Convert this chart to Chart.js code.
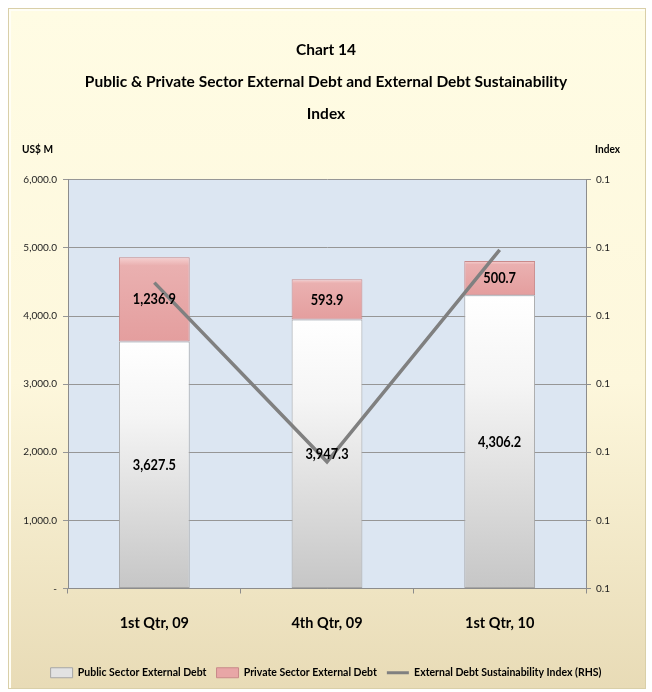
<!DOCTYPE html>
<html>
<head>
<meta charset="utf-8">
<script src="https://cdn.jsdelivr.net/npm/chart.js@4.4.1/dist/chart.umd.min.js"></script>
<style>
  html, body { margin: 0; padding: 0; background: #ffffff; }
  #wrap { position: relative; width: 652px; height: 692px; }
  #frame {
    position: absolute; left: 8px; top: 8px; width: 636px; height: 679px;
    border: 1px solid #d9cfa8; box-shadow: inset 2px 2px 0 #fffef5;
    background: linear-gradient(to bottom, #fffce4 0%, #fdf7dc 55%, #e8dbb6 100%);
  }
  canvas { position: absolute; left: 0; top: 0; }
</style>
</head>
<body>
<div id="wrap">
  <div id="frame"></div>
  <canvas id="c" width="652" height="692"></canvas>
</div>
<script>
// Quarters on the category axis
const categories = ['1st Qtr, 09', '4th Qtr, 09', '1st Qtr, 10'];
// External debt, US$ millions
const publicDebt = [3627.5, 3947.3, 4306.2];
const privateDebt = [1236.9, 593.9, 500.7];
// External Debt Sustainability Index (right-hand scale)
const sustainabilityIndex = [0.1249, 0.0986, 0.1297];
// Tick settings for the two value axes
const leftTicks = { min: 0, max: 6000, step: 1000 };
const rightTicks = { min: 0.08, max: 0.14, step: 0.01 };

const FONT = "Lato, 'Open Sans', sans-serif";

function fmtThousands(v) {
  if (v === 0) return '-';
  return v.toLocaleString('en-US', { minimumFractionDigits: 1, maximumFractionDigits: 1 });
}

// Text drawn slightly condensed horizontally
function narrowText(ctx, text, x, y, squeeze) {
  ctx.save();
  ctx.translate(x, y);
  ctx.scale(squeeze, 1);
  ctx.fillText(text, 0, 0);
  ctx.restore();
}

// Vertical gradient spanning one stacked segment
function segmentGradient(ctx, stops, fallback) {
  const chart = ctx.chart;
  const y = chart.scales && chart.scales.y;
  if (!chart.chartArea || !y || ctx.type !== 'data') return fallback;
  const ds = chart.data.datasets;
  let base = 0;
  for (let i = 0; i < ctx.datasetIndex; i++) {
    if (ds[i].type !== 'line') base += ds[i].data[ctx.dataIndex];
  }
  const top = base + ds[ctx.datasetIndex].data[ctx.dataIndex];
  const yTop = y.getPixelForValue(top);
  const yBot = y.getPixelForValue(base);
  const g = chart.ctx.createLinearGradient(0, yTop, 0, yBot);
  stops.forEach(s => g.addColorStop(s[0], s[1]));
  return g;
}

const plotBackground = {
  id: 'plotBackground',
  beforeDraw(chart) {
    const { ctx, chartArea: a } = chart;
    ctx.save();
    ctx.fillStyle = '#dce6f2';
    ctx.fillRect(a.left, a.top, a.right - a.left, a.bottom - a.top);
    ctx.restore();
  }
};

// Axis captions above the two value scales
const axisCaptions = {
  id: 'axisCaptions',
  afterDraw(chart) {
    const { ctx, chartArea: a } = chart;
    ctx.save();
    ctx.fillStyle = '#000';
    ctx.font = 'bold 11px ' + FONT;
    ctx.textBaseline = 'middle';
    ctx.textAlign = 'left';
    narrowText(ctx, 'US$ M', 22, a.top - 30, 0.92);
    ctx.textAlign = 'right';
    narrowText(ctx, 'Index', 620, a.top - 30, 0.92);
    ctx.restore();
  }
};

// Value labels in the middle of each bar segment
const segmentLabels = {
  id: 'segmentLabels',
  afterDatasetsDraw(chart) {
    const { ctx } = chart;
    ctx.save();
    ctx.fillStyle = '#000';
    ctx.font = 'bold 16px ' + FONT;
    ctx.textAlign = 'center';
    ctx.textBaseline = 'middle';
    chart.data.datasets.forEach((ds, di) => {
      if (ds.type === 'line') return;
      const meta = chart.getDatasetMeta(di);
      meta.data.forEach((bar, i) => {
        const p = bar.getProps(['x', 'y', 'base'], true);
        narrowText(ctx, fmtThousands(ds.data[i]), p.x, (p.y + p.base) / 2, 0.8);
      });
    });
    ctx.restore();
  }
};

new Chart(document.getElementById('c'), {
  data: {
    labels: categories,
    datasets: [
      {
        type: 'bar',
        label: 'Public Sector External Debt',
        data: publicDebt,
        yAxisID: 'y',
        order: 2,
        backgroundColor: ctx => segmentGradient(ctx, [[0, '#ffffff'], [0.3, '#f5f5f5'], [1, '#c6c6c6']], '#e6e6e6'),
        borderColor: '#a6a6a6',
        borderWidth: 1,
        borderSkipped: false
      },
      {
        type: 'bar',
        label: 'Private Sector External Debt',
        data: privateDebt,
        yAxisID: 'y',
        order: 2,
        backgroundColor: ctx => segmentGradient(ctx, [[0, '#f6d2d2'], [0.1, '#eab0b0'], [1, '#e49e9e']], '#e8a4a4'),
        borderColor: '#c98a8a',
        borderWidth: 1,
        borderSkipped: false
      },
      {
        type: 'line',
        label: 'External Debt Sustainability Index (RHS)',
        data: sustainabilityIndex,
        yAxisID: 'y1',
        order: 1,
        borderColor: '#808080',
        backgroundColor: '#808080',
        borderWidth: 3.5,
        pointRadius: 0,
        pointHoverRadius: 0,
        tension: 0,
        fill: false,
        pointStyle: 'line'
      }
    ]
  },
  options: {
    responsive: false,
    animation: false,
    layout: { padding: { left: 0, right: 0, top: 0, bottom: 4 } },
    datasets: { bar: { barPercentage: 0.41, categoryPercentage: 1 } },
    scales: {
      x: {
        stacked: true,
        offset: true,
        grid: { display: true, drawOnChartArea: false, drawTicks: true, tickLength: 5, color: '#8c8c8c', offset: true },
        border: { display: true, color: '#8c8c8c' },
        ticks: { color: '#000', font: { family: FONT, size: 14.5, weight: 'bold' }, padding: 21, maxRotation: 0 },
        afterFit(s) { s.height = 69; }
      },
      y: {
        stacked: true,
        position: 'left',
        min: leftTicks.min, max: leftTicks.max,
        grid: { color: '#969696', tickLength: 5, drawTicks: true },
        border: { display: true, color: '#8c8c8c' },
        ticks: { stepSize: leftTicks.step, color: '#222', font: { family: FONT, size: 10 }, padding: 6, callback: v => fmtThousands(v) },
        afterFit(s) { s.width = 68; }
      },
      y1: {
        position: 'right',
        min: rightTicks.min, max: rightTicks.max,
        grid: { drawOnChartArea: false, color: '#8c8c8c', tickLength: 5 },
        border: { display: true, color: '#8c8c8c' },
        ticks: { stepSize: rightTicks.step, color: '#222', font: { family: FONT, size: 10 }, padding: 5, callback: v => v.toFixed(1) },
        afterFit(s) { s.width = 66; }
      }
    },
    plugins: {
      title: {
        display: true,
        text: ['Chart 14', 'Public & Private Sector External Debt and External Debt Sustainability', 'Index'],
        color: '#000',
        font: { family: FONT, size: 15.5, weight: 'bold', lineHeight: 2.06 },
        padding: { top: 34, bottom: 50 }
      },
      legend: {
        position: 'bottom',
        labels: {
          color: '#000',
          font: { family: FONT, size: 10.5, weight: 'bold' },
          usePointStyle: true,
          pointStyleWidth: 22,
          boxHeight: 10,
          padding: 10,
          generateLabels(chart) {
            const items = Chart.defaults.plugins.legend.labels.generateLabels(chart);
            const fills = ['#e2e2e2', '#e8a6a6', '#808080'];
            const strokes = ['#a6a6a6', '#c98a8a', '#808080'];
            items.sort((a, b) => a.datasetIndex - b.datasetIndex);
            items.forEach(it => {
              const i = it.datasetIndex;
              it.fillStyle = fills[i];
              it.strokeStyle = strokes[i];
              it.pointStyle = i === 2 ? 'line' : 'rect';
              it.lineWidth = i === 2 ? 3 : 1;
            });
            return items;
          }
        }
      },
      tooltip: { enabled: false }
    }
  },
  plugins: [plotBackground, axisCaptions, segmentLabels]
});
</script>
</body>
</html>
